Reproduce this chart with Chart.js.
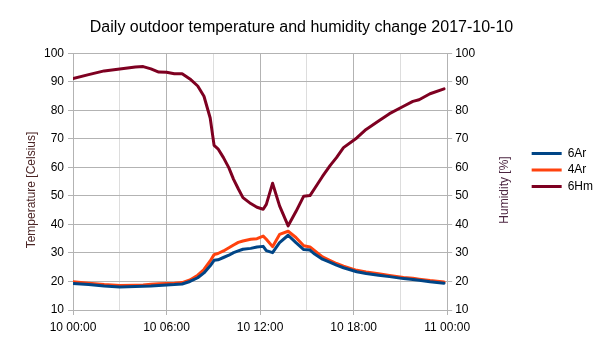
<!DOCTYPE html>
<html>
<head>
<meta charset="utf-8">
<script src="https://cdn.jsdelivr.net/npm/chart.js@4/dist/chart.umd.min.js"></script>
<style>
  body { margin: 0; background: #fff; }
  #wrap { width: 605px; height: 340px; }
</style>
</head>
<body>
<div id="wrap"><canvas id="chart" width="605" height="340"></canvas></div>
<script>
// hours since 2017-10-10 00:00
var hours = [0, 1, 2, 3, 4, 4.5, 5, 5.5, 6, 6.5, 7, 7.5, 8, 8.4, 8.8, 9.05, 9.3, 9.65, 10, 10.3,
  10.6, 10.9, 11.4, 11.8, 12.2, 12.4, 12.8, 13.25, 13.8, 14.3, 14.8, 15.2, 15.5, 16, 16.5, 16.9,
  17.35, 18.2, 18.8, 19.6, 20.3, 21.2, 21.8, 22.2, 22.9, 23.8];

var temp6Ar = [19.3, 18.9, 18.4, 18.1, 18.2, 18.3, 18.4, 18.6, 18.8, 18.9, 19.1, 20.0, 21.3, 23.0, 25.5, 27.4, 27.6, 28.4, 29.2, 30.1,
  30.7, 31.3, 31.6, 32.1, 32.3, 30.8, 30.1, 33.6, 36.2, 33.6, 31.2, 31.0, 29.6, 27.8, 26.7, 25.7,
  24.8, 23.4, 22.8, 22.2, 21.7, 21.0, 20.7, 20.4, 19.9, 19.4];

var temp4Ar = [19.9, 19.4, 18.9, 18.6, 18.7, 18.8, 19.0, 19.2, 19.3, 19.4, 19.6, 20.5, 22.2, 24.2, 27.2, 29.4, 29.8, 30.7, 31.8, 32.8,
  33.7, 34.2, 34.8, 35.0, 35.9, 34.8, 32.2, 36.5, 37.6, 35.4, 32.5, 32.1, 30.8, 28.6, 27.3, 26.3,
  25.4, 23.9, 23.3, 22.7, 22.1, 21.4, 21.1, 20.8, 20.3, 19.8];

var hum6Hm = [91.1, 92.5, 93.8, 94.5, 95.2, 95.3, 94.5, 93.4, 93.3, 92.8, 92.8, 91.0, 88.5, 84.9, 77.3, 67.7, 66.5, 63.4, 59.8, 55.8,
  52.5, 49.4, 47.3, 46.0, 45.3, 47.0, 54.4, 46.5, 39.5, 44.5, 49.9, 50.1, 52.6, 56.8, 60.7, 63.4,
  66.9, 70.3, 73.3, 76.2, 78.8, 81.4, 83.1, 83.7, 85.8, 87.5];

var xTickLabels = ["10 00:00", "10 06:00", "10 12:00", "10 18:00", "11 00:00"];
var leftTitle = 'Temperature [Celsius]';
var rightTitle = 'Humidity [%]';

function points(values) {
  return hours.map(function (h, i) {
    return { x: h, y: values[i] };
  });
}

var gridDark = '#b3b3b3';
var gridLight = '#dddddd';
var font = { family: '"Liberation Sans", Arial, sans-serif', size: 12 };

// both axis titles read bottom-to-top, so draw them ourselves
var axisTitles = {
  id: 'axisTitles',
  afterDraw: function (chart) {
    var c = chart.ctx;
    var yMid = 190;
    c.save();
    c.font = '12px ' + font.family;
    c.textAlign = 'center';
    c.textBaseline = 'middle';
    [[chart.scales.y.left + 32, leftTitle, '#4b2525'],
     [chart.scales.y1.right - 22, rightTitle, '#4b2540']].forEach(function (t) {
      c.save();
      c.translate(t[0], yMid);
      c.rotate(-Math.PI / 2);
      c.fillStyle = t[2];
      c.fillText(t[1], 0, 0);
      c.restore();
    });
    c.restore();
  }
};

var ctx = document.getElementById('chart').getContext('2d');

new Chart(ctx, {
  type: 'line',
  data: {
    datasets: [
      { label: '6Ar', data: points(temp6Ar), yAxisID: 'y', borderColor: '#004586', backgroundColor: '#004586' },
      { label: '4Ar', data: points(temp4Ar), yAxisID: 'y', borderColor: '#ff420e', backgroundColor: '#ff420e' },
      { label: '6Hm', data: points(hum6Hm), yAxisID: 'y1', borderColor: '#7e0021', backgroundColor: '#7e0021' }
    ]
  },
  plugins: [axisTitles],
  options: {
    responsive: false,
    animation: false,
    layout: { padding: { left: 0, right: 2, top: 0, bottom: 0 } },
    elements: {
      line: { borderWidth: 3, tension: 0, borderJoinStyle: 'round', borderCapStyle: 'round' },
      point: { radius: 0 }
    },
    plugins: {
      title: {
        display: true,
        text: 'Daily outdoor temperature and humidity change 2017-10-10',
        color: '#000',
        font: { family: font.family, size: 16, weight: 'normal' },
        padding: { top: 18, bottom: 16 }
      },
      legend: {
        position: 'right',
        labels: {
          color: '#000',
          font: font,
          boxWidth: 30,
          boxHeight: 3,
          padding: 4.5,
          generateLabels: function (chart) {
            return Chart.defaults.plugins.legend.labels.generateLabels(chart).map(function (item) {
              item.lineWidth = 0;
              return item;
            });
          }
        }
      },
      tooltip: { enabled: false }
    },
    scales: {
      x: {
        type: 'linear',
        min: 0,
        max: 24,
        afterFit: function (scale) { scale.height = 30; },
        afterBuildTicks: function (scale) {
          scale.ticks = [0, 3, 6, 9, 12, 15, 18, 21, 24].map(function (v) { return { value: v }; });
        },
        ticks: {
          color: '#000',
          font: font,
          padding: 5,
          maxRotation: 0,
          autoSkip: false,
          callback: function (value) {
            return value % 6 === 0 ? xTickLabels[value / 6] : '';
          }
        },
        grid: {
          color: function (c) { return c.tick && c.tick.value % 6 === 0 ? gridDark : gridLight; },
          tickColor: function (c) { return c.tick && c.tick.value % 6 === 0 ? gridDark : 'rgba(0,0,0,0)'; },
          tickLength: 5
        },
        border: { color: gridDark }
      },
      y: {
        position: 'left',
        min: 10,
        max: 100,
        afterFit: function (scale) { scale.width = 73; },
        ticks: { stepSize: 10, color: '#000', font: font, padding: 4 },
        grid: { color: gridDark, tickLength: 5 },
        border: { color: gridDark }
      },
      y1: {
        position: 'right',
        min: 10,
        max: 100,
        afterFit: function (scale) { scale.width = 80; },
        ticks: { stepSize: 10, color: '#000', font: font, padding: 3 },
        grid: { drawOnChartArea: false, color: gridDark, tickLength: 5 },
        border: { color: gridDark }
      }
    }
  }
});
</script>
</body>
</html>
